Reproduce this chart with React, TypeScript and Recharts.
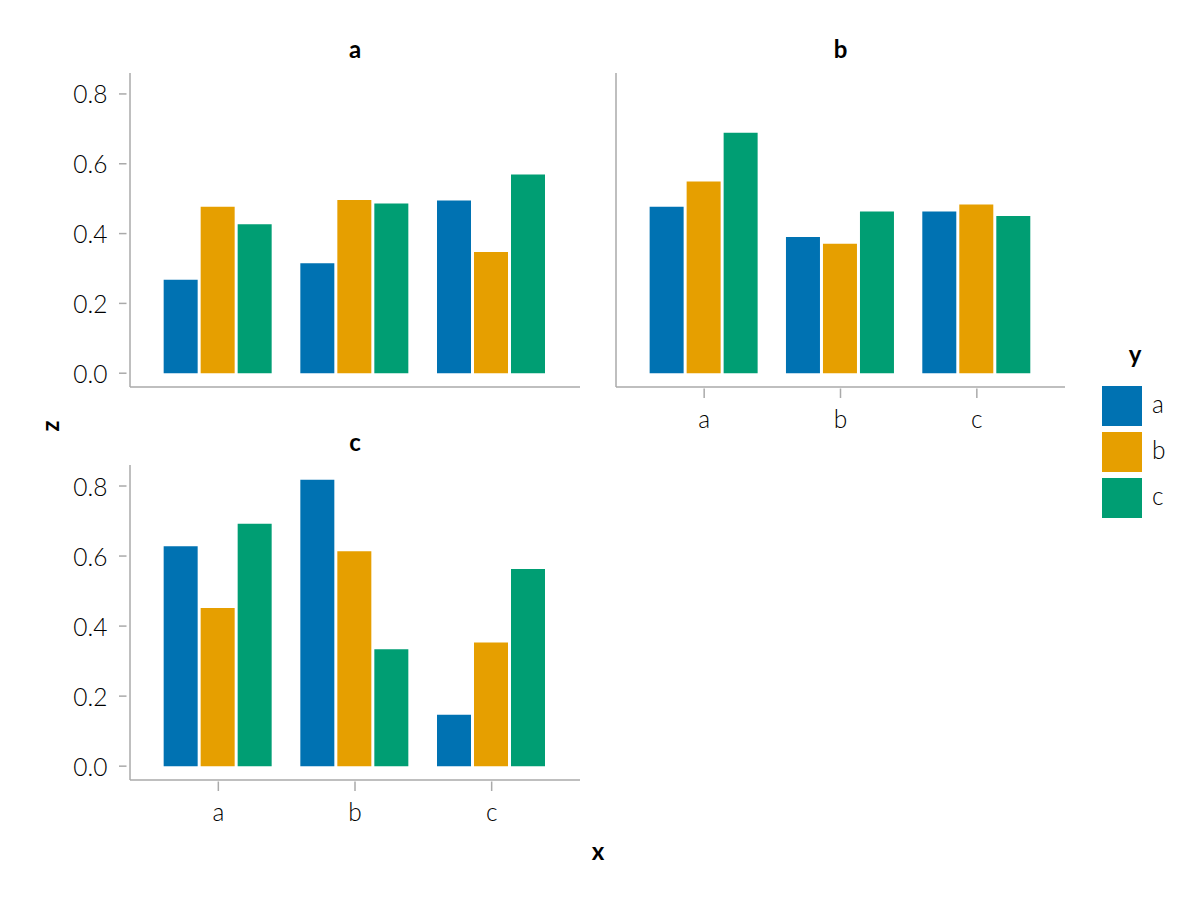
import React from 'react';
import { BarChart, Bar, XAxis, YAxis } from 'recharts';

// ---- data ----
const categories = ['a', 'b', 'c'];
const groupNames = ['a', 'b', 'c'];

// facet "a"
const facetA_ya = [0.268, 0.315, 0.495];
const facetA_yb = [0.477, 0.496, 0.347];
const facetA_yc = [0.427, 0.486, 0.569];

// facet "b"
const facetB_ya = [0.477, 0.39, 0.463];
const facetB_yb = [0.549, 0.371, 0.483];
const facetB_yc = [0.689, 0.463, 0.45];

// facet "c"
const facetC_ya = [0.628, 0.818, 0.147];
const facetC_yb = [0.452, 0.614, 0.353];
const facetC_yc = [0.692, 0.334, 0.563];

const yTicks = [0, 0.2, 0.4, 0.6, 0.8];
const yDomain: [number, number] = [-0.0395, 0.86];

const colors = ['#0072B2', '#E69F00', '#009E73'];
const AXIS = '#aaaaaa';
const FONT = "'Lato', 'Open Sans', sans-serif";

function buildRows(ya: number[], yb: number[], yc: number[]) {
  return categories.map((c, i) => ({ x: c, a: ya[i], b: yb[i], c: yc[i] }));
}

const YTick = (props: any) => {
  const { x, y, payload } = props;
  return (
    <g>
      <line x1={x - 11} x2={x - 3.5} y1={y} y2={y} stroke={AXIS} strokeWidth={1.5} />
      <text
        x={x - 22.5}
        y={y}
        textAnchor="end"
        dominantBaseline="central"
        fontFamily={FONT}
        fontWeight={300}
        fontSize={24.5}
        fill="#000"
      >
        {Number(payload.value).toFixed(1)}
      </text>
    </g>
  );
};

const XTick = (props: any) => {
  const { x, y, payload } = props;
  return (
    <g>
      <line x1={x} x2={x} y1={y + 1.5} y2={y + 11} stroke={AXIS} strokeWidth={1.5} />
      <text
        x={x}
        y={y + 31.5}
        textAnchor="middle"
        dominantBaseline="central"
        fontFamily={FONT}
        fontWeight={300}
        fontSize={24.5}
        fill="#000"
      >
        {payload.value}
      </text>
    </g>
  );
};

type FacetProps = {
  rows: any[];
  left: number;
  top: number;
  width: number;
  height: number;
  margin: { top: number; right: number; left: number; bottom: number };
  showX: boolean;
  showY: boolean;
};

const Facet = ({ rows, left, top, width, height, margin, showX, showY }: FacetProps) => (
  <div style={{ position: 'absolute', left, top, width, height }}>
    <BarChart
      width={width}
      height={height}
      data={rows}
      margin={margin}
      barCategoryGap="10%"
      barGap={3}
    >
      <XAxis
        dataKey="x"
        type="category"
        height={50}
        padding={{ left: 20, right: 20 }}
        axisLine={{ stroke: AXIS, strokeWidth: 1.5 }}
        tickLine={false}
        tickSize={0}
        tickMargin={0}
        tick={showX ? <XTick /> : false}
        interval={0}
      />
      <YAxis
        type="number"
        domain={yDomain}
        ticks={yTicks}
        width={60}
        axisLine={{ stroke: AXIS, strokeWidth: 1.5 }}
        tickLine={false}
        tickSize={0}
        tickMargin={0}
        tick={showY ? <YTick /> : false}
        interval={0}
      />
      {groupNames.map((g, i) => (
        <Bar key={g} dataKey={g} fill={colors[i]} isAnimationActive={false} />
      ))}
    </BarChart>
  </div>
);

const titleStyle = (cx: number, cy: number): React.CSSProperties => ({
  position: 'absolute',
  left: cx - 50,
  top: cy - 16,
  width: 100,
  height: 32,
  lineHeight: '32px',
  textAlign: 'center',
  fontFamily: FONT,
  fontWeight: 700,
  fontSize: 24,
  color: '#000',
});

export default function App() {
  return (
    <div
      style={{
        position: 'absolute',
        left: 0,
        top: 0,
        width: 1200,
        height: 900,
        background: '#fff',
        overflow: 'hidden',
      }}
    >
      <Facet
        rows={buildRows(facetA_ya, facetA_yb, facetA_yc)}
        left={0}
        top={0}
        width={600}
        height={440}
        margin={{ top: 73, right: 20, left: 70, bottom: 3 }}
        showX={false}
        showY={true}
      />
      <Facet
        rows={buildRows(facetB_ya, facetB_yb, facetB_yc)}
        left={516}
        top={0}
        width={560}
        height={440}
        margin={{ top: 73, right: 11, left: 40, bottom: 3 }}
        showX={true}
        showY={false}
      />
      <Facet
        rows={buildRows(facetC_ya, facetC_yb, facetC_yc)}
        left={0}
        top={393}
        width={600}
        height={440}
        margin={{ top: 72, right: 20, left: 70, bottom: 3 }}
        showX={true}
        showY={true}
      />

      <div style={titleStyle(355, 49)}>a</div>
      <div style={titleStyle(840.5, 49)}>b</div>
      <div style={titleStyle(355, 442)}>c</div>

      <div style={titleStyle(598, 851)}>x</div>
      <div style={{ ...titleStyle(50, 426), transform: 'rotate(-90deg)' }}>z</div>

      {/* legend */}
      <div style={titleStyle(1135, 354)}>y</div>
      {groupNames.map((g, i) => (
        <React.Fragment key={g}>
          <div
            style={{
              position: 'absolute',
              left: 1102,
              top: 386 + i * 46,
              width: 40,
              height: 40,
              background: colors[i],
            }}
          />
          <div
            style={{
              position: 'absolute',
              left: 1152,
              top: 384 + i * 46,
              height: 40,
              lineHeight: '40px',
              fontFamily: FONT,
              fontWeight: 300,
              fontSize: 24.5,
              color: '#000',
            }}
          >
            {g}
          </div>
        </React.Fragment>
      ))}
    </div>
  );
}
